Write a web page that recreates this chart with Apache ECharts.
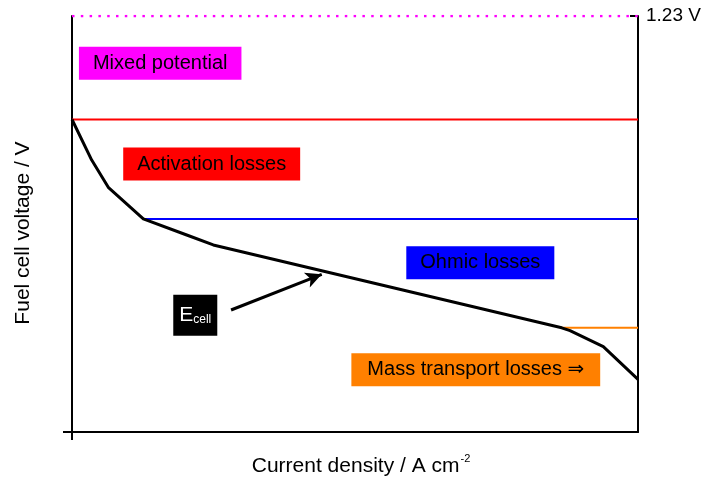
<!DOCTYPE html>
<html>
<head>
<meta charset="utf-8">
<script src="https://cdn.jsdelivr.net/npm/echarts@6/dist/echarts.min.js"></script>
<style>
  html, body { margin: 0; padding: 0; background: #fff; }
  #chart { width: 704px; height: 477px; }
</style>
</head>
<body>
<div id="chart"></div>
<script>
// Polarisation curve of a fuel cell (current density in A cm^-2, voltage in V)
const currentDensity = [0, 0.0348, 0.0641, 0.126, 0.2027, 0.2496, 0.8652, 0.8799, 0.9387, 1.0];
const cellVoltage = [0.924, 0.804, 0.7235, 0.630, 0.5825, 0.553, 0.308, 0.2995, 0.2522, 0.1558];

// Reversible cell voltage (top of the voltage axis)
const reversibleVoltage = 1.23;

// Horizontal boundaries between the loss regions
const boundaryNames = ['Mixed potential', 'Activation losses', 'Ohmic losses', 'Mass transport losses'];
const boundaryVoltage = [1.23, 0.924, 0.630, 0.308];
const boundaryFrom = [0, 0, 0.126, 0.8652];
const boundaryTo = [1, 1, 1, 1];

// Text of the region labels
const regionLabels = ['Mixed potential', 'Activation losses', 'Ohmic losses', 'Mass transport losses \u21D2'];

const FONT = '"Liberation Sans", Arial, "DejaVu Sans", sans-serif';
const boundaryColors = ['#ff00ff', '#ff0000', '#0000ff', '#ff8000'];
// label anchor points, in data units [current density, voltage]
const labelAnchors = [[0.1558, 1.0901], [0.2468, 0.7924], [0.7214, 0.5006], [0.7134, 0.1842]];
const labelSidePadding = [14, 14, 14, 16];

const boundarySeries = boundaryNames.map((name, i) => ({
  name: name,
  type: 'line',
  data: [[boundaryFrom[i], boundaryVoltage[i]], [boundaryTo[i], boundaryVoltage[i]]],
  showSymbol: false,
  symbol: 'none',
  silent: true,
  z: 2,
  lineStyle: i === 0
    ? { color: boundaryColors[i], width: 2.5, type: [2.5, 6.3], cap: 'butt' }
    : { color: boundaryColors[i], width: 2 }
}));

const labelSeries = {
  name: 'labels',
  type: 'scatter',
  symbolSize: 0,
  silent: true,
  z: 5,
  itemStyle: { opacity: 1 },
  data: regionLabels.map((text, i) => ({
    value: labelAnchors[i],
    label: {
      show: true,
      position: 'inside',
      formatter: text,
      color: '#000',
      fontFamily: FONT,
      fontSize: 20,
      lineHeight: 20,
      backgroundColor: boundaryColors[i],
      padding: [7, labelSidePadding[i], 6, labelSidePadding[i]]
    }
  })).concat([{
    value: [0.2178, 0.3450],
    label: {
      show: true,
      position: 'inside',
      formatter: '{e|E}{s|cell}',
      backgroundColor: '#000',
      padding: [10, 6, 10, 6],
      rich: {
        e: { color: '#fff', fontFamily: FONT, fontSize: 21, lineHeight: 21, padding: [0, 0, 4, 0], verticalAlign: 'top' },
        s: { color: '#fff', fontFamily: FONT, fontSize: 12, lineHeight: 12, verticalAlign: 'bottom' }
      }
    }
  }])
};

const curveSeries = {
  name: 'E_cell',
  type: 'line',
  data: currentDensity.map((x, i) => [x, cellVoltage[i]]),
  showSymbol: false,
  symbol: 'none',
  z: 4,
  lineStyle: { color: '#000', width: 3, join: 'round' },
  markLine: {
    silent: true,
    symbol: ['none', 'arrow'],
    symbolSize: [12, 16],
    label: { show: false },
    lineStyle: { color: '#000', width: 3, type: 'solid' },
    data: [[{ coord: [0.281, 0.3607] }, { coord: [0.4412, 0.4663] }]]
  }
};

const chart = echarts.init(document.getElementById('chart'), null, { renderer: 'canvas' });
chart.setOption({
  animation: false,
  backgroundColor: '#fff',
  grid: { left: 72, right: 66, top: 16, bottom: 45, containLabel: false, outerBoundsMode: 'none' },
  xAxis: {
    type: 'value',
    min: 0,
    max: 1,
    name: '{m|Current density / A cm}{p|-2}',
    nameLocation: 'middle',
    nameGap: 21,
    nameTextStyle: {
      padding: [0, 0, 0, 12],
      rich: {
        m: { fontFamily: FONT, fontSize: 21, color: '#000', lineHeight: 24, verticalAlign: 'bottom' },
        p: { fontFamily: FONT, fontSize: 11, color: '#000', lineHeight: 24, verticalAlign: 'top', padding: [0, 0, 0, 1] }
      }
    },
    axisLine: { onZero: false, lineStyle: { color: '#000', width: 2 } },
    axisTick: { show: true, inside: false, length: 8, customValues: [0], lineStyle: { color: '#000', width: 2 } },
    axisLabel: { show: false },
    splitLine: { show: false }
  },
  yAxis: [{
    type: 'value',
    min: 0,
    max: reversibleVoltage,
    position: 'left',
    name: 'Fuel cell voltage / V',
    nameLocation: 'middle',
    nameGap: 38,
    nameTextStyle: { fontFamily: FONT, fontSize: 21, color: '#000', padding: [0, 18, 0, 0] },
    axisLine: { show: true, onZero: false, lineStyle: { color: '#000', width: 2 } },
    axisTick: { show: true, inside: false, length: 9, customValues: [0], lineStyle: { color: '#000', width: 2 } },
    axisLabel: { show: false },
    splitLine: { show: false }
  }, {
    type: 'value',
    min: 0,
    max: reversibleVoltage,
    position: 'right',
    axisLine: { show: true, onZero: false, lineStyle: { color: '#000', width: 2 } },
    axisTick: { show: true, inside: true, length: 8, customValues: [reversibleVoltage], lineStyle: { color: '#000', width: 2 } },
    axisLabel: {
      show: true,
      customValues: [reversibleVoltage],
      formatter: (v) => v.toFixed(2) + ' V',
      margin: 8,
      fontFamily: FONT,
      fontSize: 19,
      color: '#000'
    },
    splitLine: { show: false }
  }],
  series: boundarySeries.concat([curveSeries, labelSeries])
});
</script>
</body>
</html>
